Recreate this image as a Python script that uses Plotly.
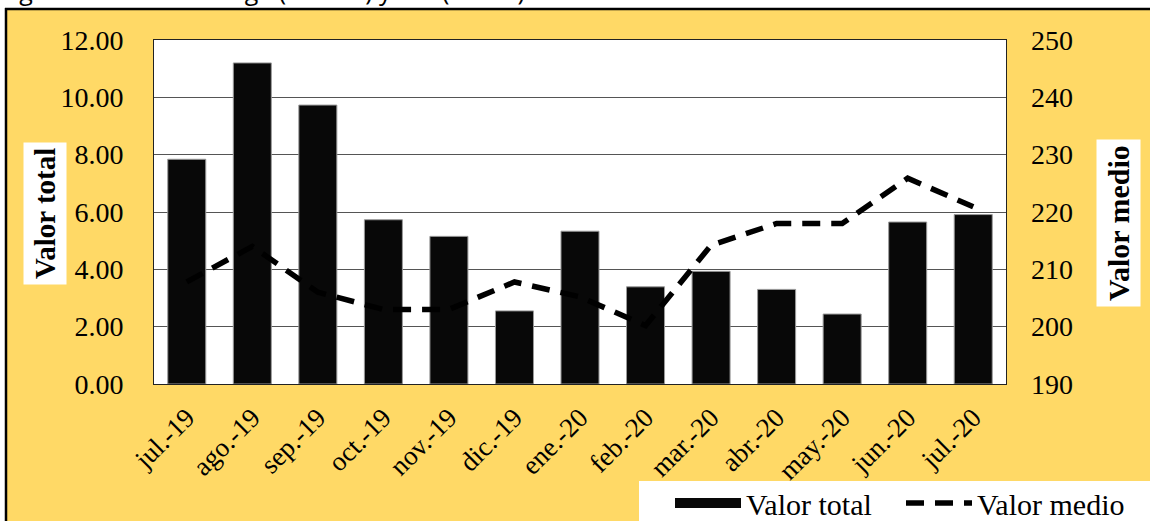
import plotly.graph_objects as go

categories = ["jul.-19", "ago.-19", "sep.-19", "oct.-19", "nov.-19", "dic.-19", "ene.-20",
              "feb.-20", "mar.-20", "abr.-20", "may.-20", "jun.-20", "jul.-20"]
valor_total = [7.84, 11.2, 9.73, 5.73, 5.15, 2.55, 5.33, 3.39, 3.93, 3.30, 2.44, 5.65, 5.91]
valor_medio = [207.8, 214.0, 206.0, 203.0, 203.0, 207.8, 205.2, 200.2, 214.2, 218.0, 218.0, 225.9, 220.9]

left_ticks = [0, 2, 4, 6, 8, 10, 12]
right_ticks = [190, 200, 210, 220, 230, 240, 250]

W, H = 1150, 521
L, R, T, B = 154, 144, 40, 137
PW, PH = W - L - R, H - T - B

def px_x(px):
    return (px - L) / PW

def px_y(py):
    return (H - B - py) / PH

SERIF = "Liberation Serif, Times New Roman, serif"

fig = go.Figure()
fig.add_trace(go.Bar(
    x=categories, y=valor_total, name="Valor total", showlegend=False,
    marker=dict(color="#080808", line=dict(color="#9a9a9a", width=1)),
    yaxis="y",
))
# legend-only entry giving the wide bar swatch of the reference legend
fig.add_trace(go.Scatter(
    x=[None], y=[None], name="Valor total", mode="lines",
    line=dict(color="#080808", width=14), yaxis="y", hoverinfo="skip",
))
fig.add_trace(go.Scatter(
    x=categories, y=valor_medio, name="Valor medio", mode="lines",
    line=dict(color="black", width=5.5, dash="18px,11px"),
    yaxis="y2",
))

shapes = [
    dict(type="rect", xref="paper", yref="paper", x0=px_x(-5), x1=px_x(W + 5),
         y0=px_y(8), y1=px_y(-5), fillcolor="white", line=dict(width=0), layer="below"),
    dict(type="rect", xref="paper", yref="paper", x0=px_x(-5), x1=px_x(5),
         y0=px_y(H + 5), y1=px_y(-5), fillcolor="white", line=dict(width=0), layer="below"),
    dict(type="line", xref="paper", yref="paper", x0=px_x(5), x1=px_x(W + 5),
         y0=px_y(9), y1=px_y(9), line=dict(color="black", width=2.5)),
    dict(type="line", xref="paper", yref="paper", x0=px_x(6), x1=px_x(6),
         y0=px_y(8), y1=px_y(H + 5), line=dict(color="black", width=2.5)),
    dict(type="rect", xref="paper", yref="paper", x0=px_x(639), x1=px_x(W + 5),
         y0=px_y(H + 5), y1=px_y(481), fillcolor="white", line=dict(width=0), layer="below"),
]

annotations = [
    dict(text="<b>Valor total</b>", textangle=-90, xref="paper", yref="paper",
         x=px_x(45), y=px_y(214), xanchor="center", yanchor="middle",
         showarrow=False, bgcolor="white",
         font=dict(family=SERIF, size=29, color="black"), borderpad=5),
    dict(text="<b>Valor medio</b>", textangle=-90, xref="paper", yref="paper",
         x=px_x(1118), y=px_y(223), xanchor="center", yanchor="middle",
         showarrow=False, bgcolor="white",
         font=dict(family=SERIF, size=30, color="black"), borderpad=5),
    dict(text="Figura 3. Valor de carga (USD M) y VM (USD/t)", xref="paper", yref="paper",
         x=px_x(-2), y=px_y(-10), xanchor="left", yanchor="middle", showarrow=False,
         font=dict(family="Open Sans, sans-serif", size=25, color="black")),
]

fig.update_layout(
    width=W, height=H,
    margin=dict(l=L, r=R, t=T, b=B, pad=0, autoexpand=False),
    paper_bgcolor="#FFD966",
    plot_bgcolor="white",
    bargap=0.42,
    showlegend=True,
    legend=dict(orientation="h", x=px_x(670), y=px_y(477), xanchor="left", yanchor="top",
                bgcolor="rgba(0,0,0,0)", font=dict(family=SERIF, size=30, color="black"),
                itemwidth=66, traceorder="normal", entrywidth=150, entrywidthmode="pixels"),
    xaxis=dict(tickangle=-45, tickfont=dict(family=SERIF, size=27, color="black"),
               showline=True, linecolor="#222222", linewidth=1, mirror=True,
               ticks="", showgrid=False, ticklabelstandoff=6),
    yaxis=dict(range=[0, 12], tickvals=left_ticks, tickformat=".2f",
               tickfont=dict(family=SERIF, size=28, color="black"),
               showgrid=True, gridcolor="#555555", gridwidth=1.3,
               showline=True, linecolor="#222222", linewidth=1, mirror=True,
               ticks="", ticklabelstandoff=24, zeroline=False),
    yaxis2=dict(range=[190, 250], tickvals=right_ticks, overlaying="y", side="right",
                tickfont=dict(family=SERIF, size=28, color="black"),
                showgrid=False, showline=False, ticks="", ticklabelstandoff=24, zeroline=False),
    shapes=shapes,
    annotations=annotations,
)

fig.write_html("out.html", config={"displayModeBar": False},
               post_script="document.body.style.margin='0';document.body.style.overflow='hidden';")
